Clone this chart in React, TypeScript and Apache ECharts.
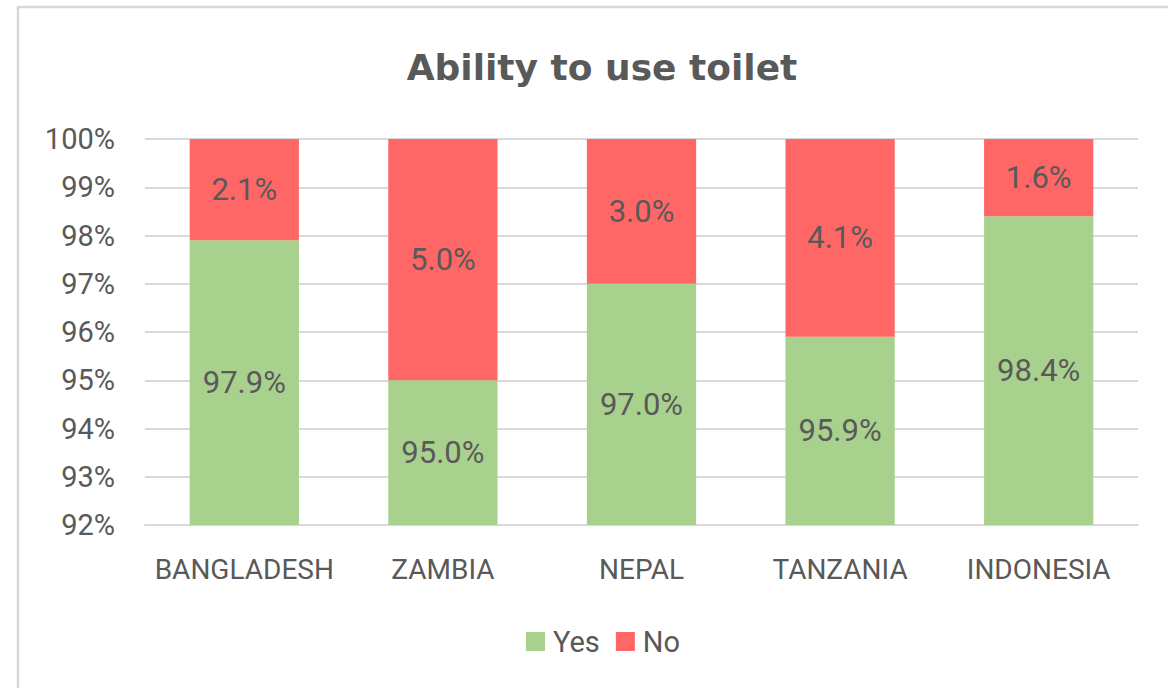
import React, { useEffect, useRef } from "react";
import * as echarts from "echarts";

const title = "Ability to use toilet";
const categories = ["BANGLADESH", "ZAMBIA", "NEPAL", "TANZANIA", "INDONESIA"];
const yesValues = [97.9, 95.0, 97.0, 95.9, 98.4];
const noValues = [2.1, 5.0, 3.0, 4.1, 1.6];
const seriesNames = ["Yes", "No"];

const FONT = "Roboto";
const TEXT = "#595959";

export default function App() {
  const ref = useRef<HTMLDivElement>(null);
  useEffect(() => {
    if (!ref.current) return;
    const chart = echarts.init(ref.current, null, { renderer: "svg" });
    const label = {
      show: true,
      position: "inside",
      color: TEXT,
      fontFamily: FONT,
      fontSize: 31,
      formatter: (p: any) => Number(p.value).toFixed(1) + "%",
    };
    chart.setOption({
      animation: false,
      backgroundColor: "#fff",
      textStyle: { fontFamily: FONT },
      title: {
        text: title,
        left: 597,
        top: 44,
        textAlign: "center",
        textStyle: {
          fontFamily: "DejaVu Sans",
          fontSize: 36,
          fontWeight: "bold",
          color: TEXT,
        },
      },
      graphic: [
        {
          type: "rect",
          shape: { x: 18, y: 7, width: 1200, height: 720 },
          style: { fill: "none", stroke: "#D9D9D9", lineWidth: 2.5 },
          silent: true,
        },
      ],
      legend: {
        left: 521,
        top: 622,
        itemWidth: 19,
        itemHeight: 19,
        itemGap: 16,
        icon: "rect",
        textStyle: {
          fontFamily: FONT,
          fontSize: 29,
          color: TEXT,
          padding: [0, 0, 0, 3],
        },
        data: seriesNames,
      },
      grid: { left: 145, right: 30, top: 139, bottom: 163, containLabel: false },
      xAxis: {
        type: "category",
        data: categories,
        axisLine: { show: true, lineStyle: { color: "#D9D9D9", width: 2 } },
        axisTick: { show: false },
        axisLabel: {
          color: TEXT,
          fontFamily: FONT,
          fontSize: 28,
          margin: 30,
          interval: 0,
        },
      },
      yAxis: {
        type: "value",
        min: 92,
        max: 100,
        interval: 1,
        axisLine: { show: false },
        axisTick: { show: false },
        splitLine: { lineStyle: { color: "#D9D9D9", width: 2 } },
        axisLabel: {
          color: TEXT,
          fontFamily: FONT,
          fontSize: 29,
          margin: 30,
          formatter: "{value}%",
        },
      },
      series: [
        {
          name: seriesNames[0],
          type: "bar",
          stack: "total",
          barWidth: "55%",
          data: yesValues,
          itemStyle: { color: "#A9D18E" },
          label,
        },
        {
          name: seriesNames[1],
          type: "bar",
          stack: "total",
          barWidth: "55%",
          data: noValues,
          itemStyle: { color: "#FF6666" },
          label,
        },
      ],
    });
    return () => chart.dispose();
  }, []);
  return (
    <div
      ref={ref}
      style={{ position: "absolute", left: 0, top: 0, width: 1168, height: 688 }}
    />
  );
}
